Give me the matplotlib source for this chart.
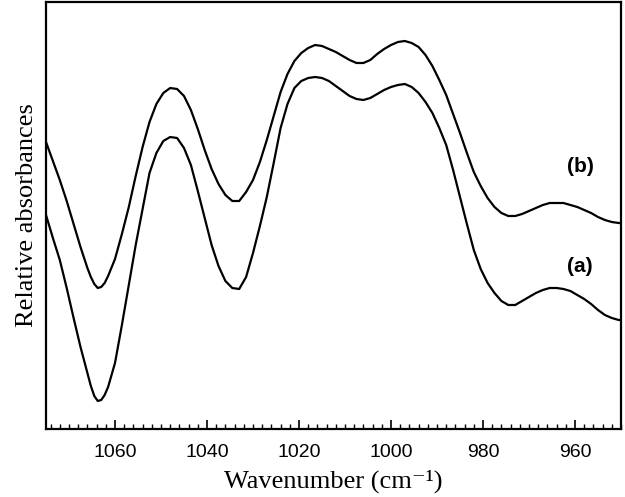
import matplotlib
matplotlib.use("Agg")
import matplotlib.pyplot as plt
from matplotlib.ticker import MultipleLocator

wavenumber = [1075.0, 1073.5, 1072.0, 1070.5, 1069.0, 1067.5, 1066.0, 1065.25, 1064.5, 1063.75,
              1063.0, 1062.25, 1061.5,
              1060.0, 1058.5, 1057.0, 1055.5, 1054.0, 1052.5, 1051.0, 1049.5, 1048.0, 1046.5,
              1045.0, 1043.5, 1042.0, 1040.5, 1039.0, 1037.5, 1036.0, 1034.5, 1033.0, 1031.5,
              1030.0, 1028.5, 1027.0, 1025.5, 1024.0, 1022.5, 1021.0, 1019.5, 1018.0, 1016.5,
              1015.0, 1013.5, 1012.0, 1010.5, 1009.0, 1007.5, 1006.0, 1004.5, 1003.0, 1001.5,
              1000.0, 998.5, 997.0, 995.5, 994.0, 992.5, 991.0, 989.5, 988.0, 986.5,
              985.0, 983.5, 982.0, 980.5, 979.0, 977.5, 976.0, 974.5, 973.0, 971.5,
              970.0, 968.5, 967.0, 965.5, 964.0, 962.5, 961.0, 959.5, 958.0, 956.5,
              955.0, 953.5, 952.0, 950.5, 950.0]

spectrum_b = [2.87, 2.68, 2.49, 2.28, 2.05, 1.82, 1.61, 1.52, 1.45, 1.41,
              1.42, 1.46, 1.53,
              1.70, 1.95, 2.22, 2.53, 2.82, 3.07, 3.25, 3.36, 3.41, 3.40,
              3.33, 3.19, 3.00, 2.79, 2.60, 2.45, 2.34, 2.28, 2.28, 2.37,
              2.49, 2.67, 2.89, 3.13, 3.37, 3.55, 3.68, 3.76, 3.81, 3.84,
              3.83, 3.80, 3.77, 3.73, 3.69, 3.66, 3.66, 3.69, 3.75, 3.80,
              3.84, 3.87, 3.88, 3.86, 3.82, 3.74, 3.63, 3.49, 3.34, 3.15,
              2.96, 2.76, 2.57, 2.43, 2.31, 2.22, 2.16, 2.13, 2.13, 2.15,
              2.18, 2.21, 2.24, 2.26, 2.26, 2.26, 2.24, 2.22, 2.19, 2.16,
              2.12, 2.09, 2.07, 2.06, 2.06]

spectrum_a = [2.14, 1.91, 1.69, 1.41, 1.11, 0.82, 0.56, 0.43, 0.33, 0.28,
              0.29, 0.34, 0.42,
              0.66, 1.04, 1.44, 1.84, 2.20, 2.56, 2.76, 2.88, 2.92, 2.91,
              2.81, 2.64, 2.38, 2.11, 1.84, 1.63, 1.48, 1.41, 1.40, 1.52,
              1.76, 2.03, 2.32, 2.66, 3.01, 3.25, 3.41, 3.48, 3.51, 3.52,
              3.51, 3.48, 3.43, 3.38, 3.33, 3.30, 3.29, 3.31, 3.35, 3.39,
              3.42, 3.44, 3.45, 3.42, 3.36, 3.27, 3.16, 3.01, 2.84, 2.59,
              2.32, 2.05, 1.79, 1.60, 1.46, 1.36, 1.28, 1.24, 1.24, 1.28,
              1.32, 1.36, 1.39, 1.41, 1.41, 1.40, 1.38, 1.34, 1.30, 1.25,
              1.19, 1.14, 1.11, 1.09, 1.09]

major_ticks = [1060, 1040, 1020, 1000, 980, 960]

fig = plt.figure(figsize=(6.25, 4.97), dpi=100)
ax = fig.add_axes([46 / 625, 68 / 497, 575 / 625, 427 / 497])

ax.plot(wavenumber, spectrum_b, color="black", lw=1.6, solid_joinstyle="round")
ax.plot(wavenumber, spectrum_a, color="black", lw=1.6, solid_joinstyle="round")

ax.set_xlim(1075, 950)
ax.set_ylim(0, 4.27)

ax.set_xticks(major_ticks)
ax.set_xticklabels([str(t) for t in major_ticks])
ax.xaxis.set_minor_locator(MultipleLocator(2))
ax.tick_params(axis="x", which="major", direction="in", length=6.5, width=1.2,
               labelsize=14, pad=11)
ax.tick_params(axis="x", which="minor", direction="in", length=3.5, width=1.0)
for lbl in ax.get_xticklabels():
    lbl.set_family(["Liberation Sans", "DejaVu Sans"])
ax.set_yticks([])

for sp in ax.spines.values():
    sp.set_linewidth(1.6)

ax.set_xlabel("Wavenumber (cm\u207b\u00b9)", fontsize=19,
              family=["Liberation Serif", "DejaVu Serif"], labelpad=6)
ax.set_ylabel("Relative absorbances", fontsize=19,
              family=["Liberation Serif", "DejaVu Serif"], labelpad=6)

ax.text(958.9, 2.62, "(b)", fontsize=15, fontweight="bold",
        family=["Liberation Sans", "DejaVu Sans"], ha="center", va="center")
ax.text(958.9, 1.62, "(a)", fontsize=15, fontweight="bold",
        family=["Liberation Sans", "DejaVu Sans"], ha="center", va="center")

fig.savefig("out.png", dpi=100)
